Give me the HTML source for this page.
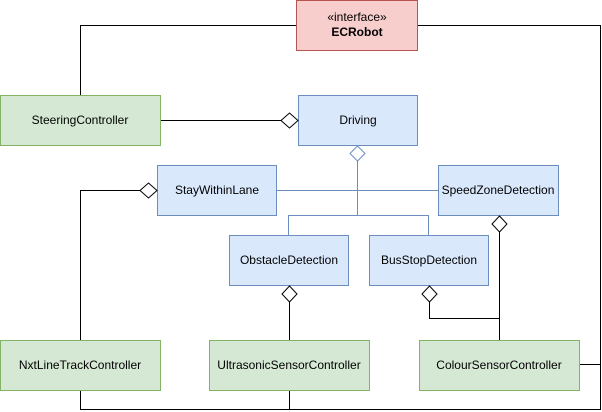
<!DOCTYPE html>
<html><head><meta charset="utf-8"><style>
html,body{margin:0;padding:0;background:#fff;}
svg{display:block;}
text{font-family:"Liberation Sans",Arial,sans-serif;font-size:12px;fill:#000;}
</style></head><body>
<svg width="602" height="412" viewBox="0 0 602 412" xmlns="http://www.w3.org/2000/svg">
<g fill="none" stroke="#000" stroke-width="1">
<polyline points="296.5,25.5 80.5,25.5 80.5,95"/>
<polyline points="418,25.5 600.5,25.5 600.5,409.5 80.5,409.5 80.5,390"/>
<line x1="289.5" y1="390" x2="289.5" y2="409.5"/>
<line x1="579" y1="364.5" x2="600.5" y2="364.5"/>
<line x1="161" y1="120.5" x2="281" y2="120.5"/>
<polyline points="140,190.5 80.5,190.5 80.5,340"/>
<line x1="289.5" y1="302" x2="289.5" y2="340"/>
<line x1="499.5" y1="232" x2="499.5" y2="340"/>
<polyline points="429.5,302 429.5,318.5 499.5,318.5"/>
</g>
<g fill="none" stroke="#6c8ebf" stroke-width="1">
<line x1="357.5" y1="161" x2="357.5" y2="215.5"/>
<line x1="276" y1="190.5" x2="438" y2="190.5"/>
<polyline points="288.5,236 288.5,215.5 428.5,215.5 428.5,236"/>
</g>
<rect x="296.5" y="0.5" width="121" height="50" fill="#f8cecc" stroke="#b85450"/>
<rect x="0.5" y="95.5" width="160" height="50" fill="#d5e8d4" stroke="#82b366"/>
<rect x="298.5" y="95.5" width="119" height="50" fill="#dae8fc" stroke="#6c8ebf"/>
<rect x="157.5" y="165.5" width="119" height="50" fill="#dae8fc" stroke="#6c8ebf"/>
<rect x="438.5" y="165.5" width="120" height="50" fill="#dae8fc" stroke="#6c8ebf"/>
<rect x="229.5" y="235.5" width="119" height="50" fill="#dae8fc" stroke="#6c8ebf"/>
<rect x="369.5" y="235.5" width="119" height="50" fill="#dae8fc" stroke="#6c8ebf"/>
<rect x="0.5" y="340.5" width="160" height="50" fill="#d5e8d4" stroke="#82b366"/>
<rect x="209.5" y="340.5" width="160" height="50" fill="#d5e8d4" stroke="#82b366"/>
<rect x="419.5" y="340.5" width="160" height="50" fill="#d5e8d4" stroke="#82b366"/>
<g fill="#fff" stroke="#000">
<polygon points="281,120.5 289.5,113 298,120.5 289.5,128"/>
<polygon points="140,190.5 148.5,183 157,190.5 148.5,198"/>
<polygon points="499.5,216 507,224 499.5,232 492,224"/>
<polygon points="289.5,286 297,294 289.5,302 282,294"/>
<polygon points="429.5,286 437,294 429.5,302 422,294"/>
</g>
<polygon points="357.5,146 365,153.5 357.5,161 350,153.5" fill="#fff" stroke="#6c8ebf"/>
<g text-anchor="middle">
<text x="357" y="21" font-size="11">«interface»</text>
<text x="357" y="36" font-weight="bold">ECRobot</text>
<text x="80" y="124">SteeringController</text>
<text x="358" y="124">Driving</text>
<text x="217" y="194">StayWithinLane</text>
<text x="498" y="194">SpeedZoneDetection</text>
<text x="289" y="264">ObstacleDetection</text>
<text x="429" y="264">BusStopDetection</text>
<text x="80" y="369">NxtLineTrackController</text>
<text x="289" y="369">UltrasonicSensorController</text>
<text x="499" y="369">ColourSensorController</text>
</g>
</svg>
</body></html>
